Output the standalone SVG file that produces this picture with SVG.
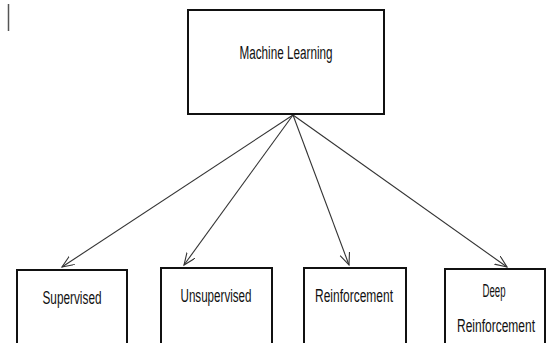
<svg xmlns="http://www.w3.org/2000/svg" width="548" height="343" viewBox="0 0 548 343">
<style>
.box{fill:#fff;stroke:#111;stroke-width:2}
.lbl{font-family:"Liberation Sans",Arial,sans-serif;font-size:18px;fill:#111;text-anchor:middle}
.conn{stroke:#333;stroke-width:1.1;fill:none;marker-end:url(#ah)}
</style>
<defs>
<marker id="ah" markerUnits="userSpaceOnUse" markerWidth="14" markerHeight="12" refX="12" refY="5" orient="auto">
<path d="M0,0 L12,5 L0,10" fill="none" stroke="#333" stroke-width="1.1"/>
</marker>
</defs>
<rect width="548" height="343" fill="#fff"/>
<line x1="8.5" y1="4" x2="8.5" y2="31" stroke="#555" stroke-width="1.5"/>
<g id="connectors">
<line class="conn" x1="293" y1="115" x2="62" y2="267"/>
<line class="conn" x1="293" y1="115" x2="184" y2="265"/>
<line class="conn" x1="293" y1="115" x2="349" y2="265"/>
<line class="conn" x1="293" y1="115" x2="507" y2="267"/>
</g>
<g id="machine-learning">
<rect class="box" x="188" y="10" width="196" height="104"/>
<text class="lbl" x="286" y="59" textLength="93" lengthAdjust="spacingAndGlyphs">Machine Learning</text>
</g>
<g id="supervised">
<rect class="box" x="17" y="270" width="110" height="80"/>
<text class="lbl" x="72" y="304" textLength="59" lengthAdjust="spacingAndGlyphs">Supervised</text>
</g>
<g id="unsupervised">
<rect class="box" x="161" y="268" width="111" height="82"/>
<text class="lbl" x="216" y="302" textLength="71" lengthAdjust="spacingAndGlyphs">Unsupervised</text>
</g>
<g id="reinforcement">
<rect class="box" x="304" y="268" width="102" height="82"/>
<text class="lbl" x="354" y="302" textLength="78" lengthAdjust="spacingAndGlyphs">Reinforcement</text>
</g>
<g id="deep-reinforcement">
<rect class="box" x="445" y="269" width="100" height="81"/>
<text class="lbl" x="494" y="297" textLength="23" lengthAdjust="spacingAndGlyphs">Deep</text>
<text class="lbl" x="496" y="332" textLength="78" lengthAdjust="spacingAndGlyphs">Reinforcement</text>
</g>
</svg>
